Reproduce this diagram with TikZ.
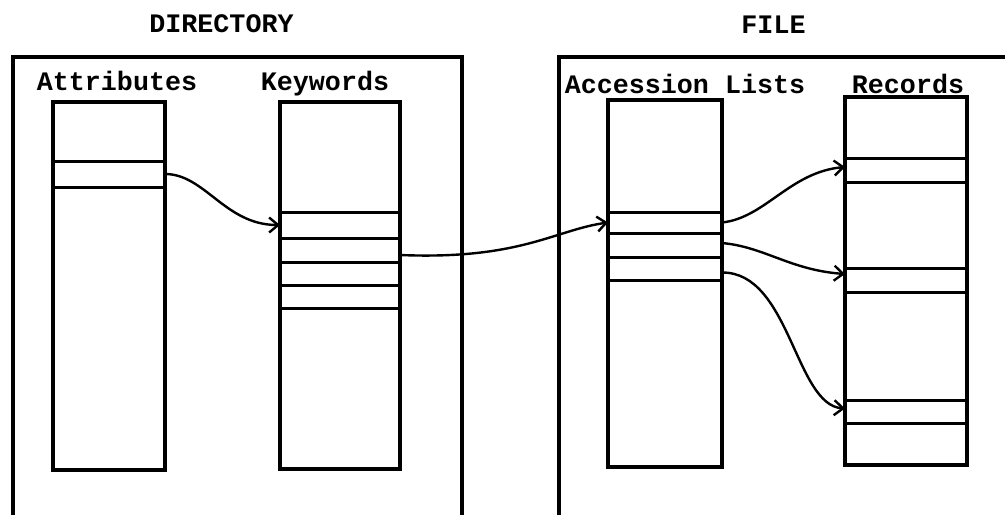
\documentclass[tikz,border=0pt]{standalone}
\usepackage{fontspec}
\setmonofont{Liberation Mono}
\usetikzlibrary{arrows.meta}

\begin{document}
\begin{tikzpicture}[x=1pt,y=-1pt,
  frame/.style={line width=3.5pt},
  store/.style={draw, line width=4pt, rectangle, inner sep=0pt, outer sep=0pt, anchor=north west},
  slot/.style={inner sep=0pt, outer sep=0pt, anchor=north west},
  rule/.style={line width=3pt},
  link/.style={line width=2.4pt, -{Straight Barb[length=9pt,width=15pt,line width=2.4pt]}},
  caption/.style={font=\ttfamily\bfseries\fontsize{26.7}{30}\selectfont, anchor=base, inner sep=0pt}
]
\useasboundingbox (0,0) rectangle (1005,515);

% headings
\node[caption] (dirlabel) at (221.5,32) {DIRECTORY};
\node[caption] (filelabel) at (773.5,33) {FILE};

% enclosing frames (open at the bottom / right)
\coordinate (dbl) at (13,515);
\coordinate (dtl) at (13,57);
\coordinate (dtr) at (462,57);
\coordinate (dbr) at (462,515);
\draw[frame] (dbl) -- (dtl) -- (dtr) -- (dbr);
\coordinate (fbl) at (559,515);
\coordinate (ftl) at (559,57);
\coordinate (ftr) at (1005,57);
\draw[frame] (fbl) -- (ftl) -- (ftr);

% column titles
\node[caption] (attlabel) at (117,90) {Attributes};
\node[caption] (kwlabel) at (325,90) {Keywords};
\node[caption] (acclabel) at (685,93) {Accession Lists};
\node[caption] (reclabel) at (908,93) {Records};

% storage columns
\node[store, minimum width=112pt, minimum height=368pt] (att) at (53,102) {};
\node[store, minimum width=120pt, minimum height=367pt] (kw) at (280,102) {};
\node[store, minimum width=114pt, minimum height=367pt] (acc) at (608,100) {};
\node[store, minimum width=122pt, minimum height=368pt] (rec) at (845,97) {};

% entries (slots)
\node[slot, minimum width=112pt, minimum height=26pt] (a1) at (53,161) {};
\node[slot, minimum width=120pt, minimum height=26pt] (k1) at (280,212) {};
\node[slot, minimum width=120pt, minimum height=24pt] (k2) at (280,238) {};
\node[slot, minimum width=120pt, minimum height=23pt] (k3) at (280,262) {};
\node[slot, minimum width=120pt, minimum height=23pt] (k4) at (280,285) {};
\node[slot, minimum width=114pt, minimum height=21pt] (c1) at (608,212) {};
\node[slot, minimum width=114pt, minimum height=24pt] (c2) at (608,233) {};
\node[slot, minimum width=114pt, minimum height=23pt] (c3) at (608,257) {};
\node[slot, minimum width=122pt, minimum height=24pt] (r1) at (845,158) {};
\node[slot, minimum width=122pt, minimum height=24pt] (r2) at (845,268) {};
\node[slot, minimum width=122pt, minimum height=23pt] (r3) at (845,400) {};

\draw[rule] (a1.north west) -- (a1.north east) (a1.south west) -- (a1.south east);
\draw[rule] (k1.north west) -- (k1.north east)
            (k1.south west) -- (k1.south east)
            (k2.south west) -- (k2.south east)
            (k3.south west) -- (k3.south east)
            (k4.south west) -- (k4.south east);
\draw[rule] (c1.north west) -- (c1.north east)
            (c1.south west) -- (c1.south east)
            (c2.south west) -- (c2.south east)
            (c3.south west) -- (c3.south east);
\draw[rule] (r1.north west) -- (r1.north east) (r1.south west) -- (r1.south east);
\draw[rule] (r2.north west) -- (r2.north east) (r2.south west) -- (r2.south east);
\draw[rule] (r3.north west) -- (r3.north east) (r3.south west) -- (r3.south east);

% pointers
\draw[link] (a1.east) .. controls (205,174) and (225,225) .. (k1.west);
\draw[link] ([yshift=-5pt]k2.east) .. controls (520,260) and (555,230) .. (c1.west);
\draw[link] (c1.east) .. controls (765,218) and (790,172) .. ([yshift=3pt]r1.west);
\draw[link] ([yshift=2pt]c2.east) .. controls (765,247) and (790,270) .. ([yshift=6pt]r2.west);
\draw[link] ([yshift=-4pt]c3.east) .. controls (790,272) and (795,405) .. ([yshift=3pt]r3.west);
\end{tikzpicture}
\end{document}
